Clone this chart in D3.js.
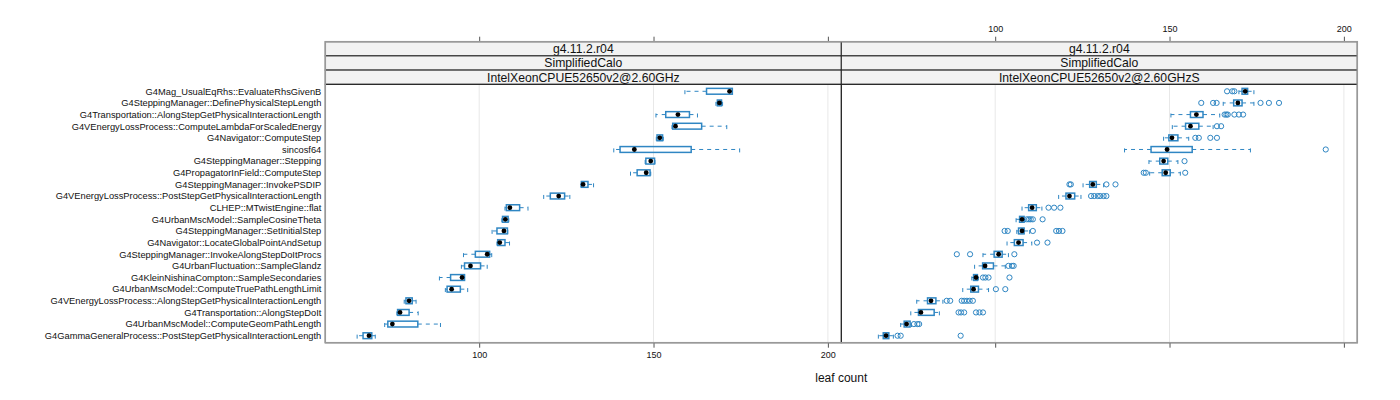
<!DOCTYPE html>
<html>
<head>
<meta charset="utf-8">
<script src="https://cdn.jsdelivr.net/npm/d3@7"></script>
<style>
  body { margin: 0; background: #fff; }
  svg { font-family: "Liberation Sans", Arial, sans-serif; }
</style>
</head>
<body>
<svg width="1400" height="400"></svg>
<script>
// categories, top to bottom
const categories = [
  "G4Mag_UsualEqRhs::EvaluateRhsGivenB",
  "G4SteppingManager::DefinePhysicalStepLength",
  "G4Transportation::AlongStepGetPhysicalInteractionLength",
  "G4VEnergyLossProcess::ComputeLambdaForScaledEnergy",
  "G4Navigator::ComputeStep",
  "sincosf64",
  "G4SteppingManager::Stepping",
  "G4PropagatorInField::ComputeStep",
  "G4SteppingManager::InvokePSDIP",
  "G4VEnergyLossProcess::PostStepGetPhysicalInteractionLength",
  "CLHEP::MTwistEngine::flat",
  "G4UrbanMscModel::SampleCosineTheta",
  "G4SteppingManager::SetInitialStep",
  "G4Navigator::LocateGlobalPointAndSetup",
  "G4SteppingManager::InvokeAlongStepDoItProcs",
  "G4UrbanFluctuation::SampleGlandz",
  "G4KleinNishinaCompton::SampleSecondaries",
  "G4UrbanMscModel::ComputeTruePathLengthLimit",
  "G4VEnergyLossProcess::AlongStepGetPhysicalInteractionLength",
  "G4Transportation::AlongStepDoIt",
  "G4UrbanMscModel::ComputeGeomPathLength",
  "G4GammaGeneralProcess::PostStepGetPhysicalInteractionLength"
];

const stripLevels = ["g4.11.2.r04", "SimplifiedCalo"];
const panelNames = ["IntelXeonCPUE52650v2@2.60GHz", "IntelXeonCPUE52650v2@2.60GHzS"];
const xTicks = [100, 150, 200];

// left panel box stats
const leftLower = [159.0, 167.9, 150.7, 155.3, 150.8, 138.6, 147.6, 143.4, 129.2, 118.5, 107.4, 106.5, 103.7, 105.1, 95.5, 94.9, 88.6, 90.3, 78.5, 76.4, 72.9, 65.0];
const leftQ1    = [165.2, 168.3, 153.5, 155.5, 151.0, 140.4, 147.8, 145.3, 129.3, 120.4, 107.8, 106.7, 105.1, 105.3, 98.9, 95.8, 91.8, 90.8, 79.0, 76.6, 73.8, 66.7];
const leftMed   = [171.8, 168.9, 157.0, 156.3, 151.8, 144.5, 149.2, 147.9, 129.8, 122.8, 108.8, 107.5, 107.1, 105.9, 102.3, 97.5, 95.1, 92.1, 79.9, 77.3, 75.1, 68.4];
const leftQ3    = [172.6, 169.5, 160.3, 163.8, 152.6, 160.8, 150.3, 149.0, 131.2, 124.5, 111.6, 108.3, 108.1, 107.4, 103.0, 100.4, 95.8, 94.6, 80.8, 79.9, 82.4, 69.2];
const leftUpper = [172.6, 169.8, 162.6, 171.0, 152.8, 174.7, 150.4, 149.2, 132.8, 126.0, 114.0, 108.5, 108.2, 108.7, 103.6, 102.3, 95.8, 96.7, 81.9, 82.5, 88.9, 70.2];
const leftOutliers = categories.map(() => []);

// right panel box stats
const rightLower = [169.9, 165.4, 150.4, 150.8, 148.3, 137.1, 144.1, 144.3, 125.2, 118.2, 107.7, 106.0, 106.2, 103.4, 96.5, 94.1, 93.3, 90.7, 77.5, 75.8, 72.9, 66.5];
const rightQ1    = [170.8, 168.4, 156.0, 154.6, 149.8, 144.7, 147.2, 147.9, 127.1, 120.3, 109.6, 107.0, 106.7, 105.5, 99.7, 96.4, 93.8, 93.0, 80.6, 78.0, 73.9, 67.9];
const rightMed   = [171.7, 169.6, 157.7, 156.0, 150.7, 149.3, 148.3, 148.9, 128.0, 121.3, 110.6, 107.7, 107.7, 106.7, 101.0, 97.1, 94.5, 93.8, 81.6, 78.7, 74.6, 68.7];
const rightQ3    = [172.4, 170.8, 159.6, 158.4, 152.4, 156.5, 149.5, 150.2, 129.0, 122.8, 111.8, 108.3, 108.3, 108.0, 102.0, 99.5, 94.9, 95.2, 83.0, 82.5, 75.6, 69.5];
const rightUpper = [174.2, 174.2, 164.4, 162.5, 155.5, 173.2, 152.4, 153.1, 131.1, 124.6, 113.4, 108.6, 109.9, 110.5, 103.8, 102.9, 95.2, 98.1, 85.0, 84.0, 76.0, 70.8];
const rightOutliers = [
  [166.5, 168.0, 168.6],
  [159.1, 162.5, 163.5, 176.1, 178.5, 181.4],
  [165.8, 166.3, 166.7, 168.6, 169.9, 171.1],
  [163.6, 164.8],
  [157.4, 158.4, 161.7, 163.6],
  [194.8],
  [154.3],
  [142.6, 143.2, 154.5],
  [121.3, 121.7, 131.9, 134.5],
  [127.5, 128.4, 129.4, 130.1, 131.1, 131.9],
  [115.3, 116.9, 118.7],
  [109.1, 109.7, 110.2, 110.8, 113.6],
  [102.7, 103.6, 110.8, 117.5, 118.3, 119.3],
  [112.0, 115.0],
  [89.0, 92.8, 105.5],
  [103.8, 104.8, 105.3],
  [96.5, 97.2, 98.1, 104.1],
  [100.2, 102.9],
  [86.1, 87.1, 90.4, 91.1, 91.9, 92.7, 93.6],
  [89.5, 90.2, 91.1, 94.5, 95.5, 96.5],
  [76.7, 77.7, 78.2],
  [72.0, 72.9, 90.1]
];

const svg = d3.select("svg");
const blue = "#2f86c3";

// layout
const panelW = 516;
const panelX = [325.3, 841.3];
const stripTop = 41.7, stripH = 14.2;
const panelTop = stripTop + 3 * stripH;
const panelBottom = 342.7;

const y = d3.scalePoint()
  .domain(categories)
  .range([panelTop, panelBottom])
  .padding(0.6);
const boxH = y.step() * 0.5;

const panels = [
  { x0: panelX[0], name: panelNames[0], lower: leftLower, q1: leftQ1, med: leftMed, q3: leftQ3, upper: leftUpper, out: leftOutliers, labelSide: "bottom" },
  { x0: panelX[1], name: panelNames[1], lower: rightLower, q1: rightQ1, med: rightMed, q3: rightQ3, upper: rightUpper, out: rightOutliers, labelSide: "top" }
];

panels.forEach(p => {
  const x = d3.scaleLinear().domain([55.87, 203.85]).range([p.x0, p.x0 + panelW]);
  const g = svg.append("g");

  // grid
  g.selectAll(".grid").data(xTicks).enter().append("line")
    .attr("x1", d => x(d)).attr("x2", d => x(d))
    .attr("y1", panelTop).attr("y2", panelBottom)
    .attr("stroke", "#e8e8e8").attr("stroke-width", 1);

  // strips
  const strips = stripLevels.concat([p.name]);
  strips.forEach((s, i) => {
    g.append("rect")
      .attr("x", p.x0).attr("y", stripTop + i * stripH)
      .attr("width", panelW).attr("height", stripH)
      .attr("fill", "#f2f2f2").attr("stroke", "#222").attr("stroke-width", 1);
    g.append("text")
      .attr("x", p.x0 + panelW / 2).attr("y", stripTop + i * stripH + stripH / 2 + 4.3)
      .attr("text-anchor", "middle").attr("font-size", 12.2).attr("fill", "#111")
      .text(s);
  });

  // axes: labels on one side, bare ticks on the other
  const axBottom = d3.axisBottom(x).tickValues(xTicks).tickSize(5).tickPadding(4)
    .tickFormat(p.labelSide === "bottom" ? d3.format("d") : () => "");
  const axTop = d3.axisTop(x).tickValues(xTicks).tickSize(5).tickPadding(5)
    .tickFormat(p.labelSide === "top" ? d3.format("d") : () => "");
  const gb = g.append("g").attr("transform", `translate(0,${panelBottom})`).call(axBottom);
  const gt = g.append("g").attr("transform", `translate(0,${stripTop})`).call(axTop);
  [gb, gt].forEach(a => {
    a.select(".domain").remove();
    a.selectAll(".tick line").attr("stroke", "#555");
    a.selectAll(".tick text").attr("font-size", 9).attr("fill", "#111")
      .style("font-family", "'Liberation Sans', Arial, sans-serif");
  });

  const rows = categories.map((c, i) => ({
    c, lower: p.lower[i], q1: p.q1[i], med: p.med[i], q3: p.q3[i], upper: p.upper[i], out: p.out[i]
  }));

  // whiskers
  rows.forEach(r => {
    const cy = y(r.c);
    [[r.q1, r.lower], [r.q3, r.upper]].forEach(([a, b]) => {
      g.append("line")
        .attr("x1", x(a)).attr("x2", x(b)).attr("y1", cy).attr("y2", cy)
        .attr("stroke", blue).attr("stroke-width", 1).attr("stroke-dasharray", "4,4");
      g.append("line")
        .attr("x1", x(b)).attr("x2", x(b)).attr("y1", cy + boxH / 2).attr("y2", cy - boxH / 2)
        .attr("stroke", blue).attr("stroke-width", 1).attr("stroke-dasharray", "4,4");
    });
  });

  // boxes
  g.selectAll(".box").data(rows).enter().append("rect")
    .attr("x", d => x(d.q1)).attr("y", d => y(d.c) - boxH / 2)
    .attr("width", d => Math.max(1, x(d.q3) - x(d.q1))).attr("height", boxH)
    .attr("fill", "none").attr("stroke", blue).attr("stroke-width", 1.5);

  // outliers
  rows.forEach(r => {
    g.selectAll(null).data(r.out).enter().append("circle")
      .attr("cx", d => x(d)).attr("cy", y(r.c)).attr("r", 2.6)
      .attr("fill", "none").attr("stroke", blue).attr("stroke-width", 1);
  });

  // medians
  g.selectAll(".med").data(rows).enter().append("circle")
    .attr("cx", d => x(d.med)).attr("cy", d => y(d.c)).attr("r", 2.4)
    .attr("fill", "#000");

  // panel frame
  g.append("rect")
    .attr("x", p.x0).attr("y", panelTop).attr("width", panelW).attr("height", panelBottom - panelTop)
    .attr("fill", "none").attr("stroke", "#222").attr("stroke-width", 1);
});

// outer frame in grey
svg.append("rect")
  .attr("x", panelX[0]).attr("y", stripTop)
  .attr("width", panelW * 2).attr("height", panelBottom - stripTop)
  .attr("fill", "none").attr("stroke", "#999").attr("stroke-width", 1.5);

// category labels
svg.append("g").selectAll("text").data(categories).enter().append("text")
  .attr("x", panelX[0] - 4).attr("y", d => y(d) + 3.3)
  .attr("text-anchor", "end").attr("font-size", 9.3).attr("fill", "#111")
  .text(d => d);

// x axis title
svg.append("text")
  .attr("x", panelX[1]).attr("y", 382)
  .attr("text-anchor", "middle").attr("font-size", 12).attr("fill", "#111")
  .text("leaf count");
</script>
</body>
</html>
